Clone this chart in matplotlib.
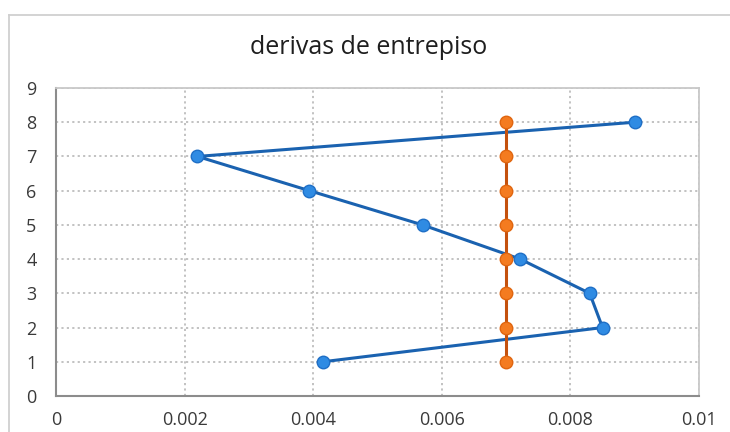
import matplotlib
matplotlib.use("Agg")
import matplotlib.pyplot as plt
from matplotlib.lines import Line2D

# Interstory drift per storey
pisos = [1, 2, 3, 4, 5, 6, 7, 8]
derivas = [0.00415, 0.0085, 0.0083, 0.00722, 0.0057, 0.00394, 0.0022, 0.009]
limite = [0.007, 0.007, 0.007, 0.007, 0.007, 0.007, 0.007, 0.007]

x_ticks = [0, 0.002, 0.004, 0.006, 0.008, 0.01]
x_labels = ["0", "0.002", "0.004", "0.006", "0.008", "0.01"]
y_ticks = [0, 1, 2, 3, 4, 5, 6, 7, 8, 9]

plt.rcParams["font.family"] = ["Open Sans", "DejaVu Sans"]

fig = plt.figure(figsize=(7.30, 4.32), dpi=100)
ax = fig.add_axes([56 / 730, 36 / 432, 643 / 730, 308 / 432])

ax.plot(derivas, pisos, color="#1A62B0", lw=2.2, marker="o", ms=9,
        mfc="#2F8BE3", mec="#1F6FC6", mew=1.0, zorder=3)
ax.plot(limite, pisos, color="#C4510E", lw=2.2, marker="o", ms=9,
        mfc="#F47B20", mec="#E0650F", mew=1.0, zorder=4)

ax.set_xlim(0, 0.01)
ax.set_ylim(0, 9)
ax.set_xticks(x_ticks)
ax.set_xticklabels(x_labels)
ax.set_yticks(y_ticks)

ax.grid(True, color="#BDBDBD", linestyle=(0, (1.2, 1.8)), linewidth=1.3)
ax.set_axisbelow(True)
ax.tick_params(length=0, labelsize=13, colors="#3A3A3A")
ax.tick_params(axis="x", pad=11)
ax.tick_params(axis="y", pad=14)

for side in ("left", "bottom"):
    ax.spines[side].set_color("#8C8C8C")
    ax.spines[side].set_linewidth(1.5)
for side in ("top", "right"):
    ax.spines[side].set_color("#C8C8C8")
    ax.spines[side].set_linewidth(1.3)

fig.text(369 / 730, 1 - 48 / 432, "derivas de entrepiso", ha="center",
         va="center", fontsize=18, color="#1E1E1E")

# Chart-area frame (left and top edges)
fig.add_artist(Line2D([8.5 / 730, 8.5 / 730], [0, 1 - 14.5 / 432],
                      transform=fig.transFigure, color="#D0D0D0", lw=1.3))
fig.add_artist(Line2D([8.5 / 730, 1], [1 - 14.5 / 432, 1 - 14.5 / 432],
                      transform=fig.transFigure, color="#D0D0D0", lw=1.3))

fig.savefig("out.png", dpi=100)
